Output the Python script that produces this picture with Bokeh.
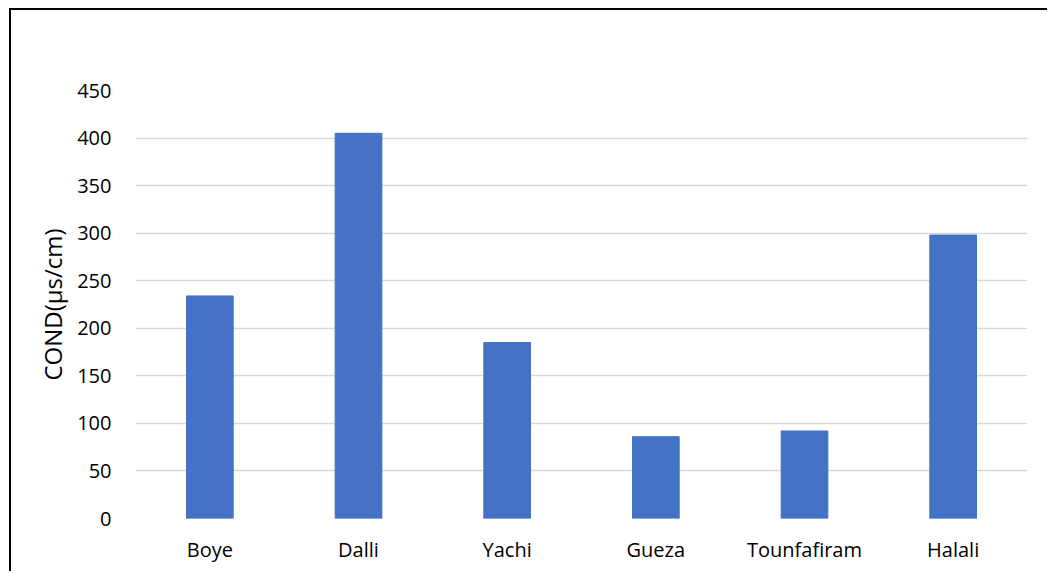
from bokeh.plotting import figure
from bokeh.embed import file_html
from bokeh.resources import INLINE
from bokeh.models import SingleIntervalTicker, Title

categories = ["Boye", "Dalli", "Yachi", "Gueza", "Tounfafiram", "Halali"]
cond_values = [234, 405, 185, 86, 92, 298]
y_label = "COND(µs/cm)"

FONT = "Open Sans"

p = figure(x_range=categories, y_range=(0, 450), width=1038, height=563,
           output_backend="svg", toolbar_location=None,
           min_border_left=124, min_border_right=22, min_border_top=80, min_border_bottom=55)
p.styles = {"margin-left": "9px", "margin-top": "8px",
            "border-left": "2px solid black", "border-top": "2px solid black"}

p.vbar(x=categories, top=cond_values, width=0.314, fill_color="#4472C4", line_color="#4472C4")

p.outline_line_color = None
p.background_fill_color = "white"
p.border_fill_color = "white"

p.xgrid.grid_line_color = None
p.ygrid.grid_line_color = "#D9D9D9"
p.ygrid.grid_line_width = 1.5
p.yaxis.ticker = SingleIntervalTicker(interval=50)

for ax in (p.xaxis[0], p.yaxis[0]):
    ax.axis_line_color = None
    ax.major_tick_line_color = None
    ax.minor_tick_line_color = None
    ax.major_tick_in = 0
    ax.major_tick_out = 0
    ax.major_label_text_font = FONT
    ax.major_label_text_font_size = "20px"
    ax.major_label_text_color = "#000000"

p.yaxis.major_label_standoff = 20
p.xaxis.major_label_standoff = 17

ylab = Title(text=y_label, align="center", standoff=11,
             text_font=FONT, text_font_size="24px", text_font_style="normal",
             text_color="#000000")
p.add_layout(ylab, "left")

open("out.html", "w").write(file_html(p, INLINE))
